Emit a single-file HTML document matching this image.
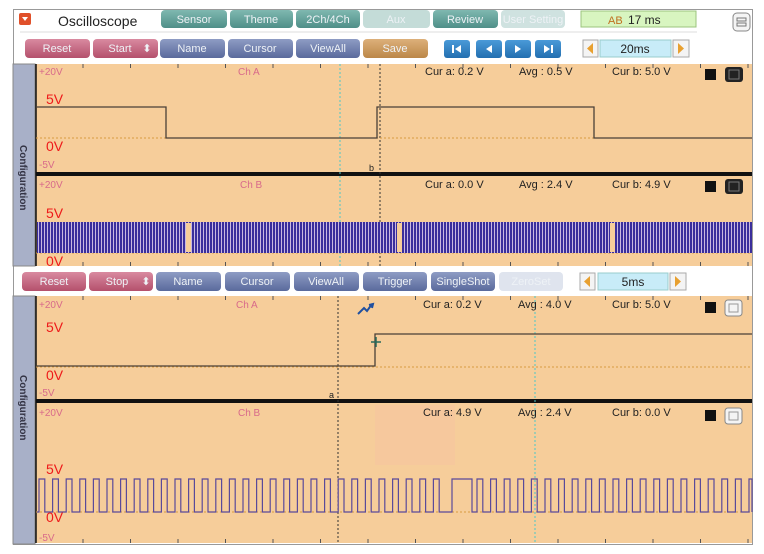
<!DOCTYPE html>
<html><head><meta charset="utf-8">
<style>
html,body{margin:0;padding:0;background:#fff;}
body{width:764px;height:554px;overflow:hidden;position:relative;font-family:"Liberation Sans",sans-serif;}
svg{position:absolute;left:0;top:0;}
.b{font-size:11px;fill:#eef2f6;text-anchor:middle;}
.lab{font-size:11px;fill:#222;}
.pk{font-size:10px;fill:#d86a8a;}
.rd{font-size:14px;fill:#ee1a1a;}
</style></head><body>
<svg id="s" width="764" height="554" viewBox="0 0 764 554" xmlns="http://www.w3.org/2000/svg">
<defs>
<linearGradient id="gT" x1="0" y1="0" x2="0" y2="1"><stop offset="0" stop-color="#7fb8b0"/><stop offset="1" stop-color="#4f8f88"/></linearGradient>
<linearGradient id="gP" x1="0" y1="0" x2="0" y2="1"><stop offset="0" stop-color="#d98aa0"/><stop offset="1" stop-color="#b4506c"/></linearGradient>
<linearGradient id="gB" x1="0" y1="0" x2="0" y2="1"><stop offset="0" stop-color="#8e9cc4"/><stop offset="1" stop-color="#5a6a9c"/></linearGradient>
<linearGradient id="gO" x1="0" y1="0" x2="0" y2="1"><stop offset="0" stop-color="#ddb07a"/><stop offset="1" stop-color="#bb8748"/></linearGradient>
<linearGradient id="gN" x1="0" y1="0" x2="0" y2="1"><stop offset="0" stop-color="#4a9ad8"/><stop offset="1" stop-color="#236fb0"/></linearGradient>
<pattern id="dense" width="3" height="40" patternUnits="userSpaceOnUse"><rect width="3" height="40" fill="#c9b8e0"/><rect x="0" width="2" height="40" fill="#3a2e9c"/></pattern>
</defs>
<rect x="13.5" y="9.5" width="739" height="535" fill="#fff" stroke="#999"/>
<rect x="19" y="13" width="12" height="12" rx="2" fill="#e0502a"/>
<path d="M22 17 L28 17 L25 21Z" fill="#fff"/>
<text x="58" y="26" font-size="14" fill="#222">Oscilloscope</text>
<rect x="161" y="10" width="66" height="18" rx="4" fill="url(#gT)"/><text class="b" x="194" y="23">Sensor</text>
<rect x="230" y="10" width="63" height="18" rx="4" fill="url(#gT)"/><text class="b" x="261" y="23">Theme</text>
<rect x="296" y="10" width="64" height="18" rx="4" fill="url(#gT)"/><text class="b" x="328" y="23">2Ch/4Ch</text>
<rect x="363" y="10" width="67" height="18" rx="4" fill="#c4dcd8"/><text class="b" x="396" y="23">Aux</text>
<rect x="433" y="10" width="65" height="18" rx="4" fill="url(#gT)"/><text class="b" x="465" y="23">Review</text>
<rect x="501" y="10" width="64" height="18" rx="4" fill="#cfe2e0"/><text class="b" x="533" y="23" font-size="10">User Setting</text>
<rect x="581" y="11" width="115" height="16" fill="#d8f5c0" stroke="#9bc47e"/>
<text x="608" y="24" font-size="11" fill="#c07020">AB</text><text x="628" y="24" font-size="12" fill="#222">17 ms</text>
<rect x="733" y="13" width="17" height="18" rx="4" fill="#f4f4f4" stroke="#888"/>
<rect x="737" y="18" width="9" height="3" fill="none" stroke="#777"/><rect x="737" y="23" width="9" height="3" fill="none" stroke="#777"/>
<line x1="20" y1="32" x2="697" y2="32" stroke="#ddd"/>
<rect x="25" y="39" width="65" height="19" rx="4" fill="url(#gP)"/><text class="b" x="57" y="52">Reset</text>
<rect x="93" y="39" width="65" height="19" rx="4" fill="url(#gP)"/><text class="b" x="120" y="52">Start</text><text class="b" x="147" y="52" font-size="9">⬍</text>
<rect x="160" y="39" width="65" height="19" rx="4" fill="url(#gB)"/><text class="b" x="192" y="52">Name</text>
<rect x="228" y="39" width="65" height="19" rx="4" fill="url(#gB)"/><text class="b" x="260" y="52">Cursor</text>
<rect x="296" y="39" width="64" height="19" rx="4" fill="url(#gB)"/><text class="b" x="328" y="52">ViewAll</text>
<rect x="363" y="39" width="65" height="19" rx="4" fill="url(#gO)"/><text class="b" x="395" y="52">Save</text>
<g fill="url(#gN)"><rect x="444" y="40" width="26" height="18" rx="3"/><rect x="476" y="40" width="26" height="18" rx="3"/><rect x="505" y="40" width="26" height="18" rx="3"/><rect x="535" y="40" width="26" height="18" rx="3"/></g>
<g fill="#fff"><rect x="452" y="45" width="2" height="8"/><path d="M461 45 L455 49 L461 53Z"/><path d="M492 45 L486 49 L492 53Z"/><path d="M515 45 L521 49 L515 53Z"/><path d="M544 45 L550 49 L544 53Z"/><rect x="551" y="45" width="2" height="8"/></g>
<rect x="583" y="40" width="15" height="17" fill="#f4f4f4" stroke="#aaa"/><path d="M593 43 L587 48.5 L593 54Z" fill="#e8a030"/>
<rect x="600" y="40" width="71" height="17" fill="#c8ecf8" stroke="#9cc"/><text x="635" y="53" font-size="12" text-anchor="middle" fill="#222">20ms</text>
<rect x="673" y="40" width="16" height="17" fill="#f4f4f4" stroke="#aaa"/><path d="M678 43 L684 48.5 L678 54Z" fill="#e8a030"/>
<rect x="22" y="272" width="64" height="19" rx="4" fill="url(#gP)"/><text class="b" x="54" y="285">Reset</text>
<rect x="89" y="272" width="64" height="19" rx="4" fill="url(#gP)"/><text class="b" x="117" y="285">Stop</text><text class="b" x="146" y="285" font-size="9">⬍</text>
<rect x="156" y="272" width="65" height="19" rx="4" fill="url(#gB)"/><text class="b" x="188" y="285">Name</text>
<rect x="225" y="272" width="65" height="19" rx="4" fill="url(#gB)"/><text class="b" x="257" y="285">Cursor</text>
<rect x="294" y="272" width="65" height="19" rx="4" fill="url(#gB)"/><text class="b" x="326" y="285">ViewAll</text>
<rect x="363" y="272" width="64" height="19" rx="4" fill="url(#gB)"/><text class="b" x="395" y="285">Trigger</text>
<rect x="431" y="272" width="64" height="19" rx="4" fill="url(#gB)"/><text class="b" x="463" y="285">SingleShot</text>
<rect x="499" y="272" width="64" height="19" rx="4" fill="#dfe4ee"/><text class="b" x="531" y="285">ZeroSet</text>
<rect x="580" y="273" width="15" height="17" fill="#f4f4f4" stroke="#aaa"/><path d="M590 276 L584 281.5 L590 287Z" fill="#e8a030"/>
<rect x="598" y="273" width="70" height="17" fill="#c8ecf8" stroke="#9cc"/><text x="633" y="286" font-size="12" text-anchor="middle" fill="#222">5ms</text>
<rect x="670" y="273" width="16" height="17" fill="#f4f4f4" stroke="#aaa"/><path d="M675 276 L681 281.5 L675 287Z" fill="#e8a030"/>
<rect x="13" y="64" width="22" height="202" fill="#a8b0c8" stroke="#888"/>
<text transform="translate(20,145) rotate(90)" font-size="10" font-weight="bold" fill="#334">Configuration</text>
<rect x="36" y="64" width="716" height="202" fill="#f6cd9a"/>
<rect x="36" y="172" width="716" height="4" fill="#111"/>
<line x1="36" y1="64" x2="36" y2="266" stroke="#111" stroke-width="1.5"/>
<rect x="13" y="296" width="22" height="248" fill="#a8b0c8" stroke="#888"/>
<text transform="translate(20,375) rotate(90)" font-size="10" font-weight="bold" fill="#334">Configuration</text>
<rect x="36" y="296" width="716" height="247" fill="#f6cd9a"/>
<rect x="36" y="399" width="716" height="4" fill="#111"/>
<line x1="36" y1="296" x2="36" y2="543" stroke="#111" stroke-width="1.5"/>
<rect x="375" y="405" width="80" height="60" fill="#f5c4a0" opacity="0.5"/>
<g id="ticks"></g>
<g stroke-dasharray="2,2">
<line x1="340" y1="64" x2="340" y2="266" stroke="#4cc8c8"/>
<line x1="380" y1="64" x2="380" y2="266" stroke="#333"/>
<line x1="338" y1="296" x2="338" y2="543" stroke="#333"/>
<line x1="535" y1="296" x2="535" y2="543" stroke="#4cc8c8"/>
</g>
<g stroke="#d89a40" stroke-dasharray="2,2">
<line x1="36" y1="138" x2="752" y2="138"/><line x1="36" y1="253" x2="752" y2="253"/>
<line x1="36" y1="367" x2="752" y2="367"/><line x1="36" y1="512" x2="752" y2="512"/>
</g>
<path d="M36 107 H166 V138 H377 V107 H594 V138 H752" fill="none" stroke="#4a4038" stroke-width="1.3"/>
<rect x="37" y="222" width="715" height="31" fill="url(#dense)"/>
<g fill="#f6cd9a"><rect x="186" y="223" width="5" height="29"/><rect x="397" y="223" width="5" height="29"/><rect x="610" y="223" width="5" height="29"/></g>
<path d="M36 366 H375 V334 H752" fill="none" stroke="#4a4038" stroke-width="1.3"/>
<path d="M371 342 H381 M376 337 V347" stroke="#2a6a5a" stroke-width="1.5"/>
<path d="M358 314 L364 308 L367 311 L372 304 M369 305 L373 304 L372 308" fill="none" stroke="#2050a0" stroke-width="2"/>
<path id="sq" d="" fill="none" stroke="#5a4a9a" stroke-width="1.2"/>
<text class="pk" x="39" y="75">+20V</text><text class="pk" x="238" y="75">Ch A</text>
<text class="rd" x="46" y="104">5V</text><text class="rd" x="46" y="151">0V</text><text class="pk" x="39" y="168">-5V</text>
<text class="lab" x="425" y="75">Cur a: 0.2 V</text><text class="lab" x="519" y="75">Avg  : 0.5 V</text><text class="lab" x="612" y="75">Cur b: 5.0 V</text>
<text x="369" y="171" font-size="9" fill="#222">b</text>
<rect x="705" y="69" width="11" height="11" fill="#111"/><rect x="725" y="67" width="18" height="15" rx="3" fill="#222"/><rect x="729" y="70" width="10" height="9" fill="none" stroke="#777"/>
<text class="pk" x="39" y="188">+20V</text><text class="pk" x="240" y="188" fill="#d8604a">Ch B</text>
<text class="rd" x="46" y="218">5V</text><text class="rd" x="46" y="266">0V</text>
<text class="lab" x="425" y="188">Cur a: 0.0 V</text><text class="lab" x="519" y="188">Avg  : 2.4 V</text><text class="lab" x="612" y="188">Cur b: 4.9 V</text>
<rect x="705" y="181" width="11" height="11" fill="#111"/><rect x="725" y="179" width="18" height="15" rx="3" fill="#222"/><rect x="729" y="182" width="10" height="9" fill="none" stroke="#777"/>
<text class="pk" x="39" y="308">+20V</text><text class="pk" x="236" y="308">Ch A</text>
<text class="rd" x="46" y="332">5V</text><text class="rd" x="46" y="380">0V</text><text class="pk" x="39" y="396">-5V</text>
<text class="lab" x="423" y="308">Cur a: 0.2 V</text><text class="lab" x="518" y="308">Avg  : 4.0 V</text><text class="lab" x="612" y="308">Cur b: 5.0 V</text>
<text x="329" y="398" font-size="9" fill="#222">a</text>
<rect x="705" y="302" width="11" height="11" fill="#111"/><rect x="725" y="300" width="17" height="16" rx="3" fill="#f4f4f4" stroke="#888"/><rect x="729" y="304" width="9" height="8" fill="none" stroke="#999"/>
<text class="pk" x="39" y="416">+20V</text><text class="pk" x="238" y="416" fill="#d8604a">Ch B</text>
<text class="rd" x="46" y="474">5V</text><text class="rd" x="46" y="522">0V</text><text class="pk" x="39" y="541">-5V</text>
<text class="lab" x="423" y="416">Cur a: 4.9 V</text><text class="lab" x="518" y="416">Avg  : 2.4 V</text><text class="lab" x="612" y="416">Cur b: 0.0 V</text>
<rect x="705" y="410" width="11" height="11" fill="#111"/><rect x="725" y="408" width="17" height="16" rx="3" fill="#f4f4f4" stroke="#888"/><rect x="729" y="412" width="9" height="8" fill="none" stroke="#999"/>
</svg>
<script>
(function(){
var d="M37 512",x=37,p=13.6;
while(x<752){
 if(x>438&&x<452){d+=" H452 V479 H472 V512";x=475;continue;}
 var a=x+2, b=x+p/2+1;
 d+=" H"+a.toFixed(1)+" V479 H"+Math.min(b,752).toFixed(1)+" V512";
 x+=p;
}
d+=" H752";
document.getElementById("sq").setAttribute("d",d);
var g=document.getElementById("ticks"),s="";
[[64,266],[296,543]].forEach(function(r){
 for(var t=83;t<752;t+=47.5){
  s+='<line x1="'+t+'" y1="'+r[0]+'" x2="'+t+'" y2="'+(r[0]+4)+'" stroke="#555"/>';
  s+='<line x1="'+t+'" y1="'+(r[1]-4)+'" x2="'+t+'" y2="'+r[1]+'" stroke="#555"/>';
 }
});
g.innerHTML=s;
})();
</script>
</body></html>
